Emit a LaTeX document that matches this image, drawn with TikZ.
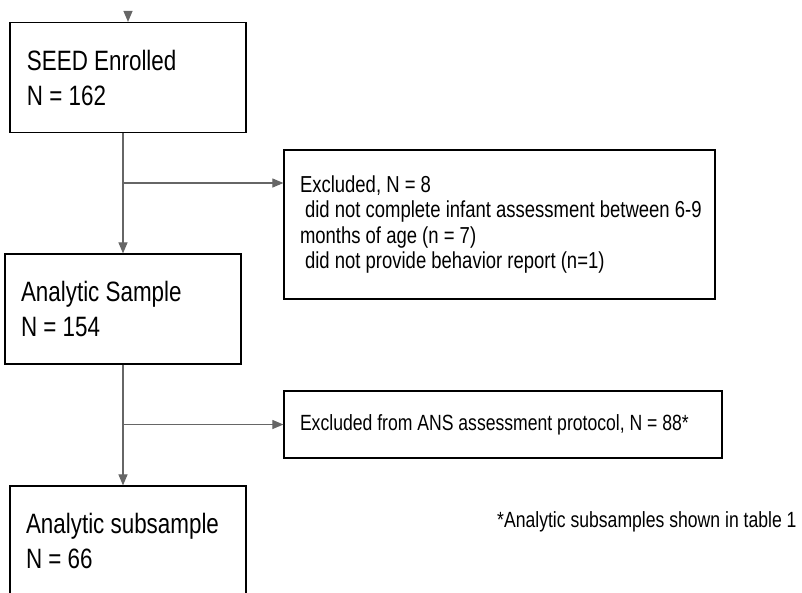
\documentclass[tikz,border=0pt]{standalone}
\usepackage{fontspec}
\setmainfont{Liberation Sans}[FakeStretch=0.8]
\usetikzlibrary{arrows.meta}
\definecolor{flowgrey}{HTML}{666666}
\tikzset{
  stage/.style={draw=black, line width=1.2pt, minimum width=236pt, minimum height=110pt,
    inner xsep=17pt, text width=202pt, align=flush left, font=\fontsize{28}{35}\selectfont},
  drop/.style={draw=black, line width=1.2pt, inner xsep=16pt, align=flush left},
  flow/.style={draw=flowgrey, line width=1.1pt, -{Triangle[length=11pt,width=9pt]}},
}
\begin{document}
\begin{tikzpicture}[x=1pt,y=-1pt]
\useasboundingbox (0,0) rectangle (802,592);
% main column
\node[stage] (seed) at (128,77.5) {SEED Enrolled\\N = 162};
\node[stage, inner xsep=16pt, text width=204pt] (sample) at (123,309) {Analytic Sample\\N = 154};
\node[stage, inner xsep=16pt, text width=204pt] (subsample) at (128,541) {Analytic subsample\\N = 66};
% exclusions
\node[drop, text width=399pt, minimum height=149pt, font=\fontsize{23.1}{25.3}\selectfont] (excl) at (499.5,224.5)
  {Excluded, N = 8\\\mbox{\hspace*{.22em}did not complete infant assessment between 6-9}\\months of age (n = 7)\\\hspace*{.22em}did not provide behavior report (n=1)};
\node[drop, text width=406pt, minimum height=67pt, font=\fontsize{22}{24}\selectfont] (exclans) at (503,424.5)
  {Excluded from ANS assessment protocol, N = 88*};
\node[anchor=base west, inner sep=0pt, font=\fontsize{22}{24}\selectfont] (note) at (497,527)
  {*Analytic subsamples shown in table 1};
% connectors
\coordinate (entry) at (128,11);
\coordinate (split1) at (123,183);
\draw[flow] (entry) -- (seed.north);
\draw[flow] (seed.south -| sample.north) -- (sample.north);
\draw[flow] (split1) -- (split1 -| excl.west);
\draw[flow] (sample.south) -- (sample.south |- subsample.north);
\draw[flow] (sample.south |- exclans.west) -- (exclans.west);
\end{tikzpicture}
\end{document}
